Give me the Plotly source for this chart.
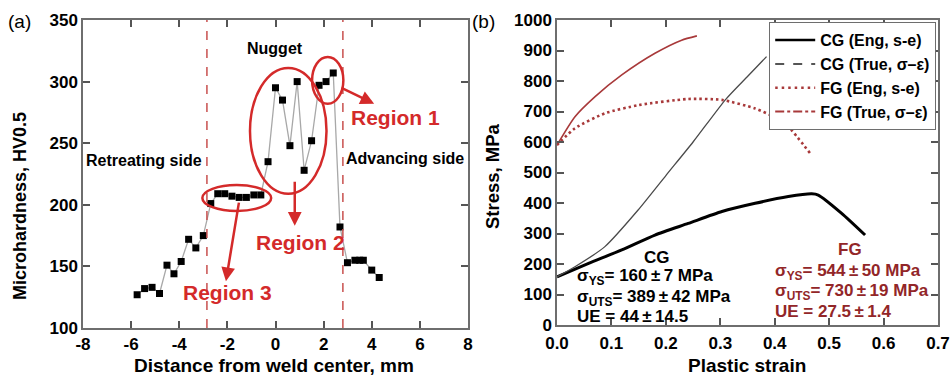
import plotly.graph_objects as go

# ---------------- data: panel (a) ----------------
distance_mm = [-5.75, -5.44, -5.13, -4.82, -4.51, -4.22, -3.92, -3.61, -3.31, -3.0,
               -2.69, -2.4, -2.11, -1.81, -1.51, -1.21, -0.9, -0.61, -0.31, 0.0,
               0.29, 0.6, 0.9, 1.19, 1.5, 1.81, 2.1, 2.4, 2.68, 2.99,
               3.3, 3.5, 3.65, 4.0, 4.31]
hardness_hv = [127, 132, 133, 128, 151, 144, 154, 172, 165, 175,
               201, 209, 209, 207, 206, 206, 208, 208, 235, 295,
               285, 248, 300, 228, 252, 297, 300, 307, 182, 153,
               155, 155, 155, 147, 141]
zone_bounds = [-2.85, 2.8]
dist_ticks = [-8, -6, -4, -2, 0, 2, 4, 6, 8]
hv_ticks = [100, 150, 200, 250, 300, 350]

# ---------------- data: panel (b) ----------------
cg_eng_strain = [0, 0.058, 0.119, 0.18, 0.241, 0.303, 0.364, 0.425, 0.468, 0.48, 0.523, 0.566]
cg_eng_stress = [158, 202, 246, 295, 333, 372, 399, 421, 430, 426, 366, 295]
cg_true_strain = [0, 0.033, 0.088, 0.149, 0.2, 0.25, 0.31, 0.35, 0.385]
cg_true_stress = [158, 191, 257, 377, 490, 600, 740, 815, 880]
fg_eng_strain = [0, 0.033, 0.088, 0.15, 0.241, 0.303, 0.364, 0.398, 0.425, 0.465]
fg_eng_stress = [590, 645, 694, 721, 741, 738, 710, 683, 650, 563]
fg_true_strain = [0, 0.033, 0.07, 0.119, 0.18, 0.229, 0.257]
fg_true_stress = [590, 683, 749, 820, 891, 934, 948]
strain_ticks = [0.0, 0.1, 0.2, 0.3, 0.4, 0.5, 0.6, 0.7]
stress_ticks = [0, 100, 200, 300, 400, 500, 600, 700, 800, 900, 1000]

W, H = 952, 379
FONT = "Liberation Sans, Arial, sans-serif"
RED = "#d42a2a"
DRED = "#a8393a"
TXT_DRED = "#922628"
FRAME = "#6e6e6e"
TICK = "#555555"

def px_x(p):
    return p / W

def px_y(p):
    return 1 - p / H

def bold_labels(vals, fmt="{}"):
    return ["<b>" + fmt.format(v) + "</b>" for v in vals]

fig = go.Figure()

# panel (a)
fig.add_trace(go.Scatter(x=distance_mm, y=hardness_hv, mode="lines+markers",
                         line=dict(color="#a8a8a8", width=1.3),
                         marker=dict(symbol="square", size=7, color="black"),
                         xaxis="x", yaxis="y", showlegend=False))

# panel (b) curves
fig.add_trace(go.Scatter(x=cg_eng_strain, y=cg_eng_stress, mode="lines",
                         line=dict(color="black", width=3, shape="spline", smoothing=0.6),
                         xaxis="x2", yaxis="y2", showlegend=False))
fig.add_trace(go.Scatter(x=cg_true_strain, y=cg_true_stress, mode="lines",
                         line=dict(color="#4a4a4a", width=1.3, shape="spline", smoothing=0.6),
                         xaxis="x2", yaxis="y2", showlegend=False))
fig.add_trace(go.Scatter(x=fg_eng_strain, y=fg_eng_stress, mode="lines",
                         line=dict(color=DRED, width=2.6, dash="2.5px,3px", shape="spline", smoothing=0.6),
                         xaxis="x2", yaxis="y2", showlegend=False))
fig.add_trace(go.Scatter(x=fg_true_strain, y=fg_true_stress, mode="lines",
                         line=dict(color=DRED, width=1.6, shape="spline", smoothing=0.6),
                         xaxis="x2", yaxis="y2", showlegend=False))

# legend-only entries (legend shows the nominal line styles)
legend_items = [
    ("<b>CG (Eng, s-e)</b>", "black", "solid", 2.5),
    ("<b>CG (True, σ–ε)</b>", "#555555", "dash", 2),
    ("<b>FG (Eng, s-e)</b>", DRED, "2.5px,4px", 2.6),
    ("<b>FG (True, σ–ε)</b>", DRED, "dashdot", 2),
]
for name, col, dash, w in legend_items:
    fig.add_trace(go.Scatter(x=[None], y=[None], mode="lines", name=name,
                             line=dict(color=col, dash=dash, width=w),
                             xaxis="x2", yaxis="y2", showlegend=True))

axis_common = dict(showline=True, linecolor=FRAME, linewidth=1.5, mirror="ticks",
                   ticks="inside", tickcolor=TICK, ticklen=7, tickwidth=1.5,
                   showgrid=False, zeroline=False, automargin=False,
                   tickmode="array",
                   tickfont=dict(family=FONT, size=17, color="black"))
# overlay axes that only carry the small (minor) inside ticks on all four sides
minor_common = dict(showline=True, linecolor=FRAME, linewidth=1.5, mirror="ticks",
                    ticks="inside", tickcolor=TICK, ticklen=4, tickwidth=1.2,
                    showgrid=False, zeroline=False, automargin=False,
                    showticklabels=False, tickmode="linear", tick0=0)

dom_xa = [px_x(83), px_x(468)]
dom_ya = [px_y(328), px_y(20)]
dom_xb = [px_x(557), px_x(938)]
dom_yb = [px_y(325), px_y(20)]

fig.update_layout(
    width=W, height=H, margin=dict(l=0, r=0, t=0, b=0),
    paper_bgcolor="white", plot_bgcolor="white",
    xaxis=dict(domain=dom_xa, range=[-8, 8],
               tickvals=dist_ticks, ticktext=bold_labels(dist_ticks),
               anchor="y", **axis_common),
    yaxis=dict(domain=dom_ya, range=[100, 350],
               tickvals=hv_ticks, ticktext=bold_labels(hv_ticks),
               anchor="x", **axis_common),
    xaxis2=dict(domain=dom_xb, range=[0, 0.7],
                tickvals=strain_ticks, ticktext=bold_labels(strain_ticks, "{:.1f}"),
                ticklabelstandoff=2,
                anchor="y2", **axis_common),
    yaxis2=dict(domain=dom_yb, range=[0, 1000],
                tickvals=stress_ticks, ticktext=bold_labels(stress_ticks),
                anchor="x2", **axis_common),
    xaxis3=dict(overlaying="x", anchor="y", range=[-8, 8], dtick=0.4, **minor_common),
    yaxis3=dict(overlaying="y", anchor="x", range=[100, 350], dtick=10, **minor_common),
    xaxis4=dict(overlaying="x2", anchor="y2", range=[0, 0.7], dtick=0.02, **minor_common),
    yaxis4=dict(overlaying="y2", anchor="x2", range=[0, 1000], dtick=20, **minor_common),
    legend=dict(x=px_x(936), y=px_y(22), xanchor="right", yanchor="top",
                bgcolor="white", bordercolor=FRAME, borderwidth=1.2,
                font=dict(family=FONT, size=16, color="black"),
                itemwidth=40, tracegroupgap=0),
)

shapes = []
for xb in zone_bounds:
    shapes.append(dict(type="line", xref="x", yref="y", x0=xb, x1=xb, y0=100, y1=350,
                       line=dict(color="#c8504e", width=1.5, dash="dash")))
# Region ellipses
shapes.append(dict(type="circle", xref="x", yref="y", x0=1.52, x1=2.82, y0=282, y1=320,
                   line=dict(color=RED, width=2.5)))
shapes.append(dict(type="circle", xref="x", yref="y", x0=-1.06, x1=2.12, y0=209, y1=311,
                   line=dict(color=RED, width=2.5)))
shapes.append(dict(type="circle", xref="x", yref="y", x0=-3.04, x1=-0.18, y0=195, y1=216,
                   line=dict(color=RED, width=2.5)))
fig.update_layout(shapes=shapes)

ann = []
def txt(x, y, text, size=13, color="black", bold=True, xref="x", yref="y", xanchor="center", **kw):
    ann.append(dict(x=x, y=y, xref=xref, yref=yref,
                    text=("<b>%s</b>" % text) if bold else text, showarrow=False,
                    xanchor=xanchor, yanchor="middle",
                    font=dict(family=FONT, size=size, color=color), **kw))

# panel labels
txt(px_x(6), px_y(21), "(a)", size=19, bold=False, xref="paper", yref="paper", xanchor="left")
txt(px_x(470), px_y(21), "(b)", size=19, bold=False, xref="paper", yref="paper", xanchor="left")

# axis titles
txt(px_x(274), px_y(365), "Distance from weld center, mm", size=19, xref="paper", yref="paper")
txt(px_x(20), px_y(206), "Microhardness, HV0.5", size=18, xref="paper", yref="paper", textangle=-90)
txt(px_x(747), px_y(365), "Plastic strain", size=19, xref="paper", yref="paper")
txt(px_x(492), px_y(176), "Stress, MPa", size=18.5, xref="paper", yref="paper", textangle=-90)

# panel (a) labels
txt(-0.02, 327, "Nugget", size=16)
txt(-5.46, 236, "Retreating side", size=16)
txt(5.38, 237.5, "Advancing side", size=16)
txt(4.98, 271, "Region 1", size=21, color=RED)
txt(1.05, 169, "Region 2", size=21, color=RED)
txt(-2.0, 128.5, "Region 3", size=21, color=RED)

# arrows
def arrow(x0, y0, x1, y1):
    ann.append(dict(x=x1, y=y1, ax=x0, ay=y0, xref="x", yref="y", axref="x", ayref="y",
                    text="", showarrow=True, arrowhead=2, arrowsize=1.1, arrowwidth=2.5,
                    arrowcolor=RED))
arrow(2.68, 295.5, 4.1, 282)
arrow(0.8, 220, 0.8, 183)
arrow(-1.51, 203, -2.06, 138)

# panel (b) property text
S = "\u2009"
txt(0.184, 220, "CG", size=17, xref="x2", yref="y2")
txt(0.033, 157, f"σ<sub>YS</sub>= 160{S}±{S}7 MPa", size=17, xref="x2", yref="y2", xanchor="left")
txt(0.033, 88.5, f"σ<sub>UTS</sub>= 389{S}±{S}42 MPa", size=17, xref="x2", yref="y2", xanchor="left")
txt(0.033, 29.5, f"UE = 44{S}±{S}14.5", size=17, xref="x2", yref="y2", xanchor="left")
txt(0.539, 246, "FG", size=17, color=TXT_DRED, xref="x2", yref="y2")
txt(0.397, 175, f"σ<sub>YS</sub>= 544{S}±{S}50 MPa", size=17, color=TXT_DRED, xref="x2", yref="y2", xanchor="left")
txt(0.397, 108, f"σ<sub>UTS</sub>= 730{S}±{S}19 MPa", size=17, color=TXT_DRED, xref="x2", yref="y2", xanchor="left")
txt(0.397, 44, f"UE = 27.5{S}±{S}1.4", size=17, color=TXT_DRED, xref="x2", yref="y2", xanchor="left")

fig.update_layout(annotations=ann)
fig.write_html("out.html", post_script="document.body.style.margin='0';",
               config={"displayModeBar": False})
